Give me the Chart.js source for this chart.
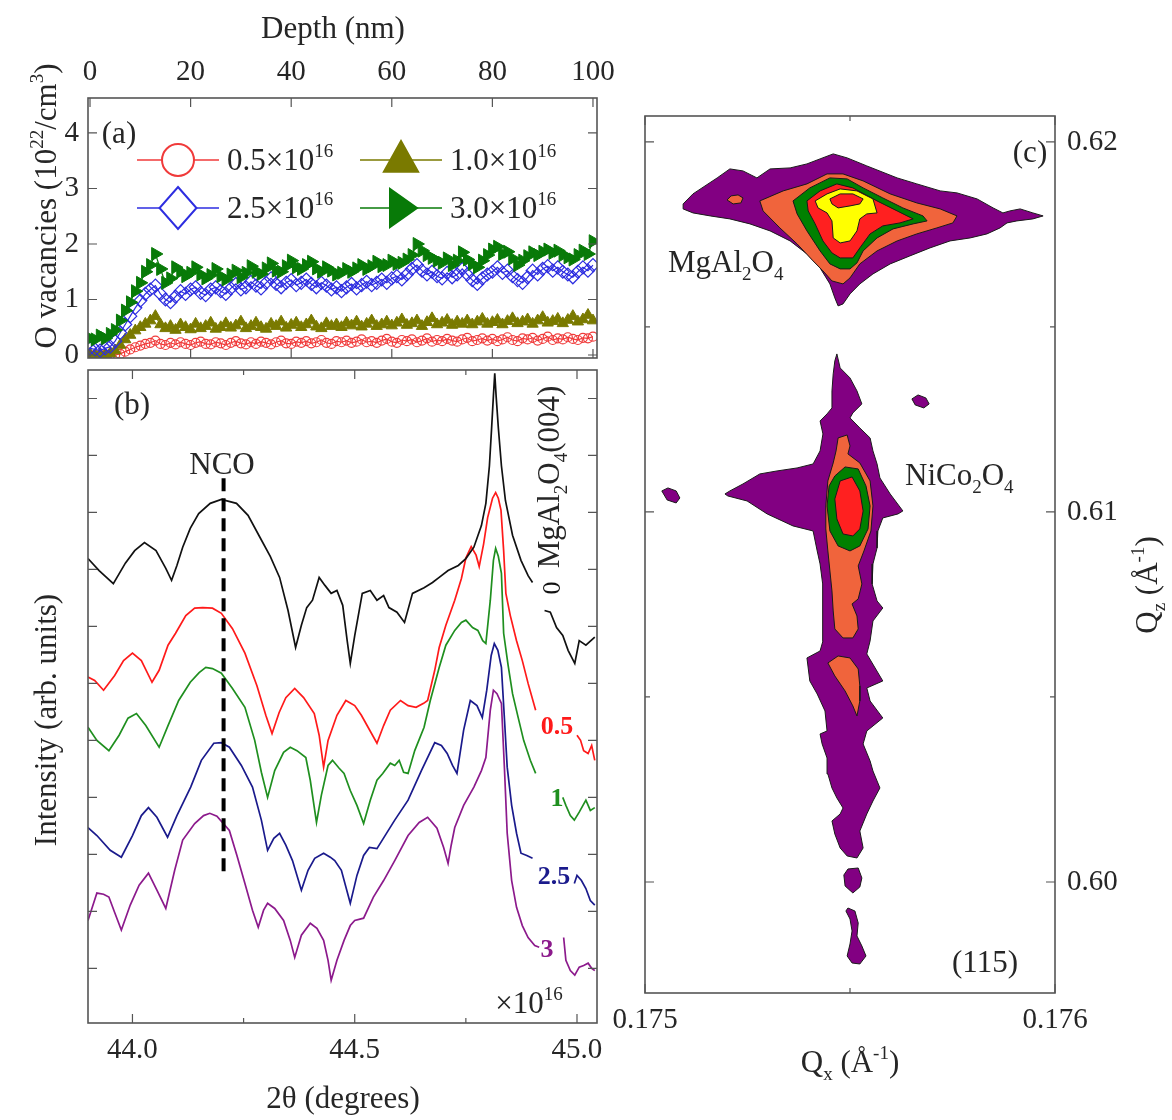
<!DOCTYPE html>
<html><head><meta charset="utf-8">
<script src="https://cdn.jsdelivr.net/npm/chart.js@4.4.1/dist/chart.umd.min.js"></script>
<style>
html,body{margin:0;padding:0;background:#fff;}
#wrap{position:relative;width:1172px;height:1120px;overflow:hidden;background:#fff;}
canvas{position:absolute;}
</style></head><body>
<div id="wrap">
<canvas id="cb" width="610" height="770" style="left:0px;top:350px"></canvas>
<canvas id="ca" width="640" height="380" style="left:0px;top:0px"></canvas>
<canvas id="cc" width="577" height="1120" style="left:595px;top:0px"></canvas>
</div>
<script>
// ---------------- Panel (a): O vacancies vs depth ----------------
const depthNm = [0,1,2,3,4,5,6,7,8,9,10,11,12,13,14,15,16,17,18,19,20,21,22,23,24,25,26,27,28,29,30,31,32,33,34,35,36,37,38,39,40,41,42,43,44,45,46,47,48,49,50,51,52,53,54,55,56,57,58,59,60,61,62,63,64,65,66,67,68,69,70,71,72,73,74,75,76,77,78,79,80,81,82,83,84,85,86,87,88,89,90,91,92,93,94,95,96,97,98,99,100];
const vac05 = [0,0,0,0,0,0.00,0.02,0.06,0.10,0.14,0.17,0.20,0.22,0.26,0.20,0.18,0.22,0.19,0.23,0.20,0.18,0.22,0.24,0.20,0.19,0.23,0.21,0.18,0.22,0.25,0.21,0.19,0.23,0.20,0.24,0.22,0.19,0.23,0.26,0.21,0.20,0.24,0.22,0.25,0.21,0.23,0.27,0.22,0.20,0.25,0.23,0.26,0.22,0.24,0.28,0.23,0.25,0.22,0.26,0.29,0.24,0.22,0.27,0.25,0.28,0.23,0.26,0.30,0.24,0.27,0.25,0.29,0.26,0.24,0.28,0.31,0.25,0.27,0.30,0.26,0.29,0.25,0.28,0.32,0.27,0.25,0.30,0.28,0.31,0.26,0.29,0.33,0.27,0.30,0.28,0.32,0.29,0.27,0.31,0.30,0.33];
const vac10 = [0.02,0.00,0.02,0.00,0.03,0.08,0.18,0.28,0.36,0.44,0.50,0.56,0.62,0.70,0.55,0.48,0.52,0.45,0.55,0.50,0.46,0.56,0.48,0.52,0.58,0.47,0.50,0.57,0.49,0.53,0.60,0.48,0.52,0.58,0.50,0.47,0.56,0.52,0.60,0.49,0.54,0.58,0.50,0.55,0.62,0.51,0.48,0.57,0.52,0.55,0.50,0.58,0.53,0.60,0.51,0.56,0.62,0.52,0.55,0.60,0.53,0.58,0.64,0.54,0.57,0.62,0.52,0.59,0.66,0.55,0.58,0.63,0.54,0.60,0.56,0.62,0.55,0.60,0.65,0.56,0.59,0.63,0.55,0.61,0.66,0.57,0.60,0.64,0.56,0.62,0.68,0.58,0.61,0.65,0.57,0.63,0.70,0.60,0.64,0.72,0.62];
const vac25 = [0.12,0.10,0.08,0.12,0.15,0.25,0.40,0.55,0.70,0.85,0.98,1.10,1.18,1.25,1.10,1.00,0.95,1.05,1.15,1.10,1.18,1.22,1.12,1.08,1.18,1.22,1.15,1.10,1.20,1.28,1.18,1.22,1.32,1.25,1.20,1.30,1.38,1.28,1.22,1.30,1.35,1.26,1.30,1.36,1.28,1.22,1.30,1.25,1.18,1.22,1.15,1.22,1.28,1.20,1.26,1.32,1.26,1.30,1.36,1.30,1.38,1.42,1.36,1.45,1.55,1.62,1.52,1.45,1.50,1.42,1.38,1.48,1.40,1.45,1.55,1.45,1.35,1.28,1.38,1.45,1.50,1.58,1.48,1.52,1.42,1.35,1.30,1.40,1.52,1.45,1.55,1.60,1.52,1.58,1.50,1.45,1.40,1.50,1.58,1.52,1.62];
const vac30 = [0.30,0.28,0.35,0.30,0.38,0.45,0.62,0.80,0.95,1.15,1.30,1.50,1.62,1.82,1.55,1.30,1.38,1.58,1.50,1.42,1.48,1.58,1.45,1.38,1.44,1.55,1.42,1.36,1.45,1.52,1.40,1.48,1.60,1.50,1.46,1.56,1.65,1.52,1.50,1.60,1.70,1.58,1.55,1.62,1.68,1.56,1.50,1.58,1.52,1.45,1.48,1.55,1.50,1.56,1.62,1.55,1.60,1.68,1.60,1.62,1.70,1.64,1.66,1.72,1.80,2.00,1.88,1.80,1.75,1.70,1.66,1.74,1.62,1.70,1.85,1.72,1.64,1.58,1.70,1.80,1.90,1.95,1.82,1.86,1.74,1.62,1.70,1.78,1.85,1.80,1.86,1.90,1.84,1.88,1.80,1.76,1.72,1.80,1.88,1.82,2.05];
const fluenceLabels = ['0.5', '1.0', '2.5', '3.0'];

// ---------------- Panel (b): XRD 2theta scans ----------------
const tt0 = [43.90,43.925,43.957,43.984,44.005,44.027,44.053,44.075,44.088,44.10,44.113,44.13,44.149,44.175,44.20,44.234,44.26,44.287,44.31,44.331,44.35,44.367,44.38,44.392,44.405,44.42,44.433,44.447,44.46,44.473,44.483,44.49,44.50,44.517,44.535,44.55,44.565,44.577,44.595,44.612,44.63,44.656,44.675,44.69,44.71,44.733,44.75,44.768,44.785,44.795,44.803,44.808,44.812,44.815,44.818,44.823,44.83,44.839,44.855,44.874,44.89,44.90,44.91,44.927,44.94,44.954,44.968,44.98,44.995,45.005,45.02,45.04];
const int0 = [8.19,7.98,7.75,8.11,8.33,8.47,8.33,8.02,7.81,8.07,8.39,8.72,8.98,9.16,9.23,9.16,8.95,8.56,8.23,7.86,7.28,6.63,7.02,7.33,7.46,7.86,7.72,7.58,7.63,7.37,6.75,6.35,6.84,7.58,7.63,7.46,7.54,7.33,7.25,7.07,7.58,7.68,7.77,7.86,7.98,8.07,8.19,8.39,8.77,9.16,9.82,10.49,11.05,11.44,11.05,10.49,9.82,9.21,8.60,8.16,7.89,7.77,null,7.28,7.25,6.98,6.84,6.58,6.35,6.75,6.67,6.81];
const tt05 = [43.90,43.915,43.935,43.96,43.98,44.00,44.02,44.044,44.06,44.08,44.097,44.12,44.14,44.158,44.18,44.20,44.225,44.253,44.28,44.30,44.314,44.33,44.345,44.365,44.385,44.409,44.42,44.43,44.44,44.46,44.48,44.50,44.515,44.53,44.55,44.565,44.58,44.603,44.62,44.638,44.655,44.664,44.68,44.69,44.705,44.725,44.74,44.75,44.762,44.773,44.78,44.79,44.799,44.81,44.817,44.823,44.829,44.835,44.84,44.85,44.864,44.877,44.89,44.907,44.95,45.00,45.008,45.015,45.025,45.033,45.04];
const int05 = [6.11,6.05,5.88,6.14,6.40,6.53,6.40,6.02,6.23,6.67,6.88,7.19,7.32,7.33,7.32,7.23,6.96,6.53,5.96,5.44,5.12,5.49,5.75,5.91,5.75,5.47,5.09,4.53,5.00,5.44,5.70,5.61,5.44,5.23,4.95,5.26,5.53,5.70,5.61,5.58,5.65,5.70,6.23,6.63,7.02,7.46,7.84,8.20,8.40,8.25,8.05,8.45,8.91,9.25,9.35,9.25,9.04,8.33,7.58,7.19,6.75,6.40,6.00,5.53,null,5.09,5.00,4.82,4.77,4.91,4.65];
const tt1 = [43.90,43.92,43.947,43.97,43.99,44.009,44.03,44.06,44.08,44.104,44.13,44.15,44.165,44.18,44.20,44.225,44.253,44.275,44.29,44.304,44.32,44.34,44.355,44.37,44.39,44.40,44.414,44.425,44.44,44.45,44.465,44.476,44.49,44.505,44.52,44.535,44.55,44.563,44.58,44.59,44.60,44.61,44.62,44.635,44.656,44.67,44.69,44.705,44.725,44.74,44.75,44.765,44.777,44.788,44.795,44.805,44.812,44.817,44.823,44.83,44.835,44.845,44.855,44.868,44.88,44.895,44.907,44.94,44.968,44.975,44.985,44.994,45.005,45.02,45.03,45.04];
const int1 = [5.23,5.00,4.82,5.09,5.39,5.47,5.26,4.88,5.26,5.70,6.02,6.19,6.28,6.26,6.18,5.91,5.58,5.00,4.44,4.00,4.47,4.79,4.88,4.82,4.70,4.30,3.56,4.04,4.56,4.65,4.51,4.42,4.12,3.86,3.54,3.95,4.30,4.42,4.60,4.56,4.65,4.44,4.42,4.82,5.23,5.70,6.28,6.67,6.93,7.07,7.11,6.98,6.93,6.75,6.70,7.46,8.16,8.37,8.23,7.93,6.88,6.32,5.82,5.39,5.00,4.65,4.42,null,4.00,3.86,3.68,3.60,3.74,3.95,3.77,3.82];
const tt25 = [43.90,43.92,43.95,43.975,44.00,44.02,44.036,44.055,44.079,44.10,44.131,44.155,44.183,44.20,44.218,44.245,44.27,44.29,44.304,44.318,44.331,44.345,44.36,44.38,44.395,44.41,44.43,44.445,44.455,44.47,44.49,44.505,44.52,44.533,44.55,44.57,44.59,44.62,44.65,44.68,44.695,44.708,44.72,44.73,44.745,44.76,44.775,44.787,44.797,44.807,44.814,44.822,44.83,44.837,44.843,44.853,44.864,44.874,44.887,44.90,44.95,44.994,45.00,45.01,45.02,45.03,45.04];
const int25 = [3.47,3.33,3.07,2.95,3.33,3.68,3.82,3.65,3.30,3.68,4.18,4.65,4.95,4.96,4.88,4.56,4.18,3.60,3.07,3.28,3.37,3.16,2.89,2.37,2.72,2.93,3.02,2.95,2.89,2.72,2.14,2.63,2.98,3.12,3.10,3.35,3.60,3.95,4.47,4.96,4.91,4.77,4.56,4.42,5.18,5.70,5.61,5.40,5.88,6.49,6.70,6.58,6.28,5.35,4.53,3.86,3.37,3.02,2.98,2.93,null,2.49,2.63,2.54,2.40,2.19,2.11];
const tt3 = [43.90,43.92,43.935,43.947,43.96,43.975,43.995,44.015,44.036,44.055,44.075,44.095,44.113,44.14,44.16,44.174,44.19,44.218,44.235,44.253,44.27,44.283,44.295,44.304,44.32,44.34,44.355,44.365,44.38,44.40,44.415,44.43,44.44,44.447,44.46,44.476,44.49,44.50,44.52,44.542,44.565,44.59,44.62,44.645,44.664,44.685,44.70,44.71,44.717,44.725,44.745,44.768,44.785,44.795,44.805,44.812,44.82,44.83,44.837,44.843,44.853,44.864,44.877,44.89,44.905,44.915,44.94,44.97,44.975,44.985,44.995,45.005,45.015,45.025,45.033,45.04];
const int3 = [1.84,2.32,2.30,2.25,1.98,1.67,2.11,2.46,2.67,2.37,2.05,2.72,3.25,3.54,3.68,3.72,3.67,3.42,2.98,2.49,2.02,1.72,2.02,2.14,2.05,1.84,1.49,1.19,1.58,1.79,1.70,1.49,1.14,0.79,1.14,1.49,1.75,1.84,1.88,2.25,2.54,2.89,3.33,3.56,3.65,3.46,3.12,2.84,3.16,3.47,3.86,4.18,4.47,4.70,5.53,5.88,5.82,5.65,4.47,3.37,2.54,2.07,1.75,1.54,1.40,1.37,null,1.54,1.14,0.96,0.88,1.02,1.05,1.09,1.00,0.96];
const ncoPeak2Theta = 44.205;
const ncoMarkerSpan = [2.65, 9.6];
const xrdCurveLabels = ['0', '0.5', '1', '2.5', '3'];

// ---------------- Panel (c): RSM contours (Qx, Qz in 1/Angstrom) ----------------
const mgaPurple = [[0.175093,0.618324],[0.175117,0.618595],[0.175176,0.619027],[0.175207,0.619270],[0.175239,0.619216],[0.175273,0.619027],[0.175305,0.619270],[0.175354,0.619297],[0.175395,0.619405],[0.175427,0.619541],[0.175459,0.619676],[0.175493,0.619568],[0.175541,0.619351],[0.175615,0.619027],[0.175663,0.618865],[0.175720,0.618676],[0.175761,0.618622],[0.175810,0.618459],[0.175849,0.618216],[0.175873,0.618081],[0.175890,0.618135],[0.175915,0.618189],[0.175946,0.618081],[0.175971,0.618000],[0.175946,0.617919],[0.175907,0.617865],[0.175883,0.617811],[0.175866,0.617676],[0.175834,0.617514],[0.175793,0.617405],[0.175744,0.617324],[0.175695,0.617135],[0.175646,0.616919],[0.175598,0.616703],[0.175556,0.616432],[0.175524,0.616162],[0.175500,0.615892],[0.175483,0.615622],[0.175471,0.615568],[0.175463,0.615784],[0.175451,0.616162],[0.175427,0.616595],[0.175395,0.616973],[0.175354,0.617324],[0.175305,0.617595],[0.175256,0.617784],[0.175207,0.617919],[0.175159,0.618000],[0.175117,0.618081],[0.175093,0.618189]];
const mgaIsland = [[0.175200,0.618432],[0.175210,0.618541],[0.175227,0.618568],[0.175239,0.618486],[0.175234,0.618351],[0.175215,0.618324]];
const mgaOrange = [[0.175280,0.618405],[0.175337,0.618676],[0.175395,0.618865],[0.175444,0.619135],[0.175483,0.619135],[0.175532,0.618946],[0.175598,0.618595],[0.175663,0.618351],[0.175720,0.618189],[0.175761,0.618000],[0.175751,0.617811],[0.175712,0.617676],[0.175663,0.617514],[0.175615,0.617324],[0.175566,0.617054],[0.175524,0.616703],[0.175500,0.616324],[0.175483,0.616162],[0.175456,0.616243],[0.175434,0.616514],[0.175410,0.616784],[0.175371,0.617243],[0.175329,0.617676],[0.175288,0.618135]];
const mgaGreen = [[0.175361,0.618405],[0.175402,0.618757],[0.175451,0.619027],[0.175493,0.619000],[0.175532,0.618757],[0.175580,0.618486],[0.175629,0.618216],[0.175678,0.618000],[0.175688,0.617865],[0.175654,0.617784],[0.175605,0.617649],[0.175566,0.617405],[0.175532,0.617054],[0.175517,0.616730],[0.175500,0.616568],[0.175476,0.616568],[0.175451,0.616703],[0.175427,0.617054],[0.175395,0.617595],[0.175371,0.618054]];
const mgaRedRing = [[0.175395,0.618405],[0.175427,0.618676],[0.175468,0.618865],[0.175507,0.618757],[0.175566,0.618405],[0.175615,0.618135],[0.175654,0.617919],[0.175622,0.617811],[0.175580,0.617730],[0.175549,0.617514],[0.175524,0.617135],[0.175507,0.616865],[0.175476,0.616865],[0.175456,0.617000],[0.175434,0.617324],[0.175415,0.617784],[0.175398,0.618135]];
const mgaYellow = [[0.175415,0.618405],[0.175444,0.618595],[0.175476,0.618730],[0.175517,0.618676],[0.175556,0.618459],[0.175566,0.618081],[0.175541,0.618054],[0.175524,0.617919],[0.175517,0.617595],[0.175500,0.617324],[0.175476,0.617270],[0.175459,0.617405],[0.175456,0.617865],[0.175444,0.618081],[0.175422,0.618216]];
const mgaCore = [[0.175451,0.618459],[0.175476,0.618595],[0.175507,0.618595],[0.175532,0.618459],[0.175524,0.618324],[0.175500,0.618270],[0.175471,0.618216],[0.175456,0.618324]];
const ncoPurple = [[0.175468,0.614270],[0.175476,0.613892],[0.175500,0.613622],[0.175517,0.613270],[0.175529,0.612919],[0.175507,0.612676],[0.175500,0.612541],[0.175524,0.612270],[0.175549,0.612000],[0.175556,0.611649],[0.175566,0.611297],[0.175573,0.610919],[0.175598,0.610486],[0.175629,0.610027],[0.175617,0.609946],[0.175580,0.609838],[0.175568,0.609486],[0.175566,0.609027],[0.175556,0.608595],[0.175554,0.608054],[0.175566,0.607595],[0.175580,0.607405],[0.175556,0.607054],[0.175549,0.606514],[0.175541,0.606162],[0.175580,0.605432],[0.175541,0.605243],[0.175549,0.604892],[0.175580,0.604432],[0.175541,0.604081],[0.175532,0.603730],[0.175549,0.603270],[0.175556,0.603000],[0.175573,0.602541],[0.175556,0.602189],[0.175541,0.601838],[0.175524,0.601378],[0.175532,0.600919],[0.175517,0.600649],[0.175493,0.600703],[0.175476,0.600919],[0.175463,0.601297],[0.175456,0.601649],[0.175476,0.601838],[0.175483,0.602000],[0.175468,0.602270],[0.175456,0.602541],[0.175446,0.602919],[0.175444,0.603351],[0.175432,0.603730],[0.175427,0.604000],[0.175444,0.604081],[0.175439,0.604622],[0.175420,0.605081],[0.175402,0.605432],[0.175395,0.606054],[0.175427,0.606243],[0.175434,0.606514],[0.175432,0.607054],[0.175434,0.607514],[0.175434,0.608054],[0.175427,0.608595],[0.175420,0.608946],[0.175410,0.609486],[0.175361,0.609622],[0.175298,0.609946],[0.175249,0.610297],[0.175202,0.610432],[0.175195,0.610486],[0.175207,0.610568],[0.175239,0.610757],[0.175280,0.611027],[0.175322,0.611108],[0.175371,0.611189],[0.175410,0.611297],[0.175427,0.611649],[0.175434,0.612108],[0.175427,0.612459],[0.175444,0.612649],[0.175456,0.612811],[0.175456,0.613270],[0.175459,0.613730],[0.175463,0.614081]];
const ncoOrangeUpper = [[0.175471,0.612000],[0.175493,0.612081],[0.175500,0.611784],[0.175495,0.611568],[0.175524,0.611324],[0.175549,0.610838],[0.175556,0.610162],[0.175551,0.609486],[0.175534,0.608946],[0.175520,0.608541],[0.175529,0.608054],[0.175520,0.607649],[0.175505,0.607514],[0.175517,0.607189],[0.175520,0.606838],[0.175507,0.606595],[0.175483,0.606595],[0.175463,0.606838],[0.175459,0.607324],[0.175456,0.607865],[0.175451,0.608405],[0.175446,0.608946],[0.175441,0.609541],[0.175441,0.610162],[0.175446,0.610838],[0.175459,0.611324],[0.175466,0.611649]];
const ncoOrangeLower = [[0.175471,0.606108],[0.175500,0.606054],[0.175520,0.605757],[0.175524,0.605297],[0.175524,0.604892],[0.175517,0.604486],[0.175507,0.604757],[0.175488,0.605162],[0.175463,0.605568],[0.175446,0.605919]];
const ncoGreen = [[0.175463,0.610973],[0.175488,0.611216],[0.175520,0.611162],[0.175539,0.610703],[0.175549,0.610162],[0.175544,0.609541],[0.175524,0.609081],[0.175500,0.608946],[0.175471,0.609081],[0.175451,0.609486],[0.175444,0.610162],[0.175449,0.610703]];
const ncoCore = [[0.175476,0.610838],[0.175505,0.610946],[0.175524,0.610568],[0.175532,0.610027],[0.175524,0.609541],[0.175507,0.609351],[0.175483,0.609405],[0.175468,0.609811],[0.175463,0.610351]];
const islandRight = [[0.175651,0.613054],[0.175666,0.613162],[0.175685,0.613081],[0.175693,0.612919],[0.175680,0.612811],[0.175659,0.612892]];
const islandLeft = [[0.175041,0.610568],[0.175056,0.610649],[0.175076,0.610568],[0.175085,0.610378],[0.175076,0.610243],[0.175054,0.610324]];
const tailBlob1 = [[0.175495,0.600351],[0.175520,0.600378],[0.175529,0.600108],[0.175524,0.599865],[0.175507,0.599703],[0.175488,0.599892],[0.175485,0.600189]];
const tailBlob2 = [[0.175495,0.599297],[0.175512,0.599216],[0.175520,0.598892],[0.175517,0.598541],[0.175529,0.598270],[0.175539,0.598000],[0.175524,0.597784],[0.175505,0.597811],[0.175493,0.598000],[0.175500,0.598324],[0.175505,0.598676],[0.175500,0.599000],[0.175490,0.599216]];

// ---------------- styling ----------------
const SERIF = '"Liberation Serif", "Times New Roman", serif';
Chart.defaults.font.family = SERIF;
Chart.defaults.font.size = 29;
Chart.defaults.color = '#262626';

const COL_A = {v05: '#f03a3a', v10: '#7a7a00', v25: '#2d2de0', v30: '#087a08'};
const COL_B = ['#111111', '#ff1a1a', '#1f8f1f', '#1a1a8c', '#8c1a8c'];
const CONTOUR = {purple: '#820082', orange: '#f0643c', green: '#008000', red: '#ff2020', yellow: '#ffff00'};

function rich(ctx, parts, x, y, o = {}) {
  const size = o.size || 30, wt = o.weight || 'normal', small = Math.round(size * 0.62);
  ctx.save();
  ctx.translate(x, y);
  if (o.rotate) ctx.rotate(o.rotate);
  ctx.fillStyle = o.color || '#262626';
  ctx.textBaseline = 'alphabetic';
  ctx.textAlign = 'left';
  const widths = parts.map(([t, k]) => { ctx.font = `${wt} ${k ? small : size}px ${SERIF}`; return ctx.measureText(t).width; });
  const total = widths.reduce((a, b) => a + b, 0);
  let cx = o.align === 'left' ? 0 : (o.align === 'right' ? -total : -total / 2);
  const base = size * 0.33;
  parts.forEach(([t, k], i) => {
    ctx.font = `${wt} ${k ? small : size}px ${SERIF}`;
    const dy = k === 1 ? -size * 0.42 : (k === -1 ? size * 0.25 : 0);
    ctx.fillText(t, cx, base + dy);
    cx += widths[i];
  });
  ctx.restore();
}

function zeroPad(s) { s.paddingLeft = 0; s.paddingRight = 0; s.paddingTop = 0; s.paddingBottom = 0; }

function framePlugin(isMinor) {
  return {
    id: 'frame',
    afterDatasetsDraw(chart) {
      const {ctx, chartArea: a} = chart;
      ctx.save();
      ctx.lineWidth = 1.2; ctx.strokeStyle = '#555';
      ['x', 'y'].forEach(id => {
        const s = chart.scales[id];
        s.ticks.forEach(t => {
          const L = isMinor && isMinor(id, t.value) ? 5 : 9;
          const p = s.getPixelForValue(t.value);
          ctx.beginPath();
          if (id === 'x') { ctx.moveTo(p, a.top); ctx.lineTo(p, a.top + L); ctx.moveTo(p, a.bottom); ctx.lineTo(p, a.bottom - L); }
          else { ctx.moveTo(a.left, p); ctx.lineTo(a.left + L, p); ctx.moveTo(a.right, p); ctx.lineTo(a.right - L, p); }
          ctx.stroke();
        });
      });
      ctx.lineWidth = 1.6; ctx.strokeStyle = '#555';
      ctx.strokeRect(a.left, a.top, a.right - a.left, a.bottom - a.top);
      ctx.restore();
    }
  };
}

function marker(ctx, style, x, y, r, color, filled, lw) {
  ctx.save(); ctx.beginPath();
  if (style === 'circle') ctx.arc(x, y, r, 0, 2 * Math.PI);
  else if (style === 'triangle') { ctx.moveTo(x, y - r); ctx.lineTo(x + r * 0.9, y + r * 0.62); ctx.lineTo(x - r * 0.9, y + r * 0.62); ctx.closePath(); }
  else if (style === 'diamond') { ctx.moveTo(x, y - r); ctx.lineTo(x + r * 0.88, y); ctx.lineTo(x, y + r); ctx.lineTo(x - r * 0.88, y); ctx.closePath(); }
  else if (style === 'right') { ctx.moveTo(x + r * 0.8, y); ctx.lineTo(x - r * 0.55, y - r * 0.95); ctx.lineTo(x - r * 0.55, y + r * 0.95); ctx.closePath(); }
  ctx.fillStyle = filled ? color : '#fff'; ctx.fill();
  ctx.lineWidth = lw; ctx.strokeStyle = color; ctx.stroke();
  ctx.restore();
}

// ---------------- chart (a) ----------------
function pairs(xs, ys) { const n = Math.min(xs.length, ys.length); const out = []; for (let i = 0; i < n; i++) out.push({x: xs[i], y: ys[i]}); return out; }

const dsA = [
  {data: pairs(depthNm, vac30), showLine: true, borderColor: COL_A.v30, borderWidth: 1.2, pointStyle: 'triangle', pointRotation: 90, pointRadius: 7.5, pointBackgroundColor: COL_A.v30, pointBorderColor: COL_A.v30, pointBorderWidth: 1},
  {data: pairs(depthNm, vac25), showLine: true, borderColor: COL_A.v25, borderWidth: 1.2, pointStyle: 'rectRot', pointRadius: 6.5, pointBackgroundColor: 'rgba(0,0,0,0)', pointBorderColor: COL_A.v25, pointBorderWidth: 1.2},
  {data: pairs(depthNm, vac10), showLine: true, borderColor: COL_A.v10, borderWidth: 1.2, pointStyle: 'triangle', pointRadius: 6.5, pointBackgroundColor: COL_A.v10, pointBorderColor: COL_A.v10, pointBorderWidth: 1},
  {data: pairs(depthNm, vac05), showLine: true, borderColor: COL_A.v05, borderWidth: 1.2, pointStyle: 'circle', pointRadius: 4.5, pointBackgroundColor: 'rgba(0,0,0,0)', pointBorderColor: COL_A.v05, pointBorderWidth: 1.2}
];

const legendA = [
  {label: fluenceLabels[0], style: 'circle', color: COL_A.v05, filled: false, r: 16, col: 0, row: 0},
  {label: fluenceLabels[1], style: 'triangle', color: COL_A.v10, filled: true, r: 19, col: 1, row: 0},
  {label: fluenceLabels[2], style: 'diamond', color: COL_A.v25, filled: false, r: 21, col: 0, row: 1},
  {label: fluenceLabels[3], style: 'right', color: COL_A.v30, filled: true, r: 20, col: 1, row: 1}
];

const annotA = {
  id: 'annotA',
  afterDraw(chart) {
    const ctx = chart.ctx;
    rich(ctx, [['Depth (nm)', 0]], 333, 28, {size: 31});
    rich(ctx, [['O vacancies (10', 0], ['22', 1], ['/cm', 0], ['3', 1], [')', 0]], 46, 206, {size: 31, rotate: -Math.PI / 2});
    rich(ctx, [['(a)', 0]], 119, 133, {size: 31});
    const colX = [178, 401], rowY = [160, 208];
    legendA.forEach(it => {
      const cx = colX[it.col], cy = rowY[it.row];
      ctx.save(); ctx.strokeStyle = it.color; ctx.lineWidth = 1.6;
      ctx.beginPath(); ctx.moveTo(cx - 41, cy); ctx.lineTo(cx + 41, cy); ctx.stroke(); ctx.restore();
      marker(ctx, it.style, cx, cy, it.r, it.color, it.filled, 2);
      rich(ctx, [[it.label + '×10', 0], ['16', 1]], cx + 49, cy, {size: 31, align: 'left'});
    });
  }
};

new Chart(document.getElementById('ca'), {
  type: 'scatter',
  data: {datasets: dsA},
  options: {
    responsive: false, animation: false,
    layout: {padding: {left: 0, top: 0, right: 43, bottom: 22}},
    plugins: {legend: {display: false}, tooltip: {enabled: false}},
    scales: {
      x: {type: 'linear', position: 'top', min: -0.4, max: 100.8,
          ticks: {stepSize: 20, includeBounds: false, padding: 8, maxRotation: 0, autoSkip: false},
          grid: {display: false, drawTicks: false}, border: {display: false},
          afterFit: s => { s.height = 98; zeroPad(s); }},
      y: {type: 'linear', min: -0.054, max: 4.63,
          ticks: {stepSize: 1, includeBounds: false, padding: 9, autoSkip: false},
          grid: {display: false, drawTicks: false}, border: {display: false},
          afterFit: s => { s.width = 88; zeroPad(s); }}
    }
  },
  plugins: [framePlugin(null), annotA]
});

// ---------------- chart (b) ----------------
const curvesB = [[tt0, int0], [tt05, int05], [tt1, int1], [tt25, int25], [tt3, int3]];
const dsB = [
  {data: [{x: ncoPeak2Theta, y: ncoMarkerSpan[1]}, {x: ncoPeak2Theta, y: ncoMarkerSpan[0]}], showLine: true, borderColor: '#000', borderWidth: 4, borderDash: [13, 7], pointRadius: 0}
].concat(curvesB.map((c, i) => ({data: pairs(c[0], c[1]), showLine: true, spanGaps: false, borderColor: COL_B[i], borderWidth: 1.7, pointRadius: 0, tension: 0})));

const annotB = {
  id: 'annotB',
  afterDraw(chart) {
    const ctx = chart.ctx;
    rich(ctx, [['(b)', 0]], 132, 54, {size: 31});
    rich(ctx, [['NCO', 0]], 222, 114, {size: 31});
    rich(ctx, [['MgAl', 0], ['2', -1], ['O', 0], ['4', -1], ['(004)', 0]], 549, 127, {size: 31, rotate: -Math.PI / 2});
    rich(ctx, [[xrdCurveLabels[0], 0]], 551, 238, {size: 26, rotate: -Math.PI / 2, color: COL_B[0]});
    rich(ctx, [[xrdCurveLabels[1], 0]], 557, 375, {size: 26, weight: 'bold', color: COL_B[1]});
    rich(ctx, [[xrdCurveLabels[2], 0]], 557, 447, {size: 26, weight: 'bold', color: COL_B[2]});
    rich(ctx, [[xrdCurveLabels[3], 0]], 554, 525, {size: 26, weight: 'bold', color: COL_B[3]});
    rich(ctx, [[xrdCurveLabels[4], 0]], 547, 598, {size: 26, weight: 'bold', color: COL_B[4]});
    rich(ctx, [['×10', 0], ['16', 1]], 529, 653, {size: 31});
    rich(ctx, [['2θ (degrees)', 0]], 343, 748, {size: 31});
    rich(ctx, [['Intensity (arb. units)', 0]], 46, 370, {size: 31, rotate: -Math.PI / 2});
  }
};

new Chart(document.getElementById('cb'), {
  type: 'scatter',
  data: {datasets: dsB},
  options: {
    responsive: false, animation: false,
    layout: {padding: {left: 0, top: 20, right: 13, bottom: 0}},
    plugins: {legend: {display: false}, tooltip: {enabled: false}},
    scales: {
      x: {type: 'linear', position: 'bottom', min: 43.9, max: 45.045,
          ticks: {stepSize: 0.25, includeBounds: false, padding: 10, maxRotation: 0, autoSkip: false,
                  callback: v => (Math.abs(v * 2 - Math.round(v * 2)) < 1e-6 ? v.toFixed(1) : '')},
          grid: {display: false, drawTicks: false}, border: {display: false},
          afterFit: s => { s.height = 97; zeroPad(s); }},
      y: {type: 'linear', min: 0.04, max: 11.5,
          ticks: {stepSize: 1, includeBounds: false, display: false},
          grid: {display: false, drawTicks: false}, border: {display: false},
          afterFit: s => { s.width = 88; zeroPad(s); }}
    }
  },
  plugins: [framePlugin((id, v) => id === 'x' && Math.abs(v * 2 - Math.round(v * 2)) > 1e-6), annotB]
});

// ---------------- chart (c) ----------------
function poly(pts, color) {
  const d = pts.map(([x, y]) => ({x, y}));
  d.push({x: pts[0][0], y: pts[0][1]});
  return {data: d, showLine: true, fill: 'shape', backgroundColor: color, borderColor: '#1a1a1a', borderWidth: 1, pointRadius: 0, tension: 0, indexAxis: 'y'};
}
// first dataset is drawn on top
const dsC = [
  poly(mgaCore, CONTOUR.red), poly(mgaYellow, CONTOUR.yellow), poly(mgaRedRing, CONTOUR.red),
  poly(mgaGreen, CONTOUR.green), poly(mgaOrange, CONTOUR.orange), poly(mgaIsland, CONTOUR.orange), poly(mgaPurple, CONTOUR.purple),
  poly(ncoCore, CONTOUR.red), poly(ncoGreen, CONTOUR.green), poly(ncoOrangeUpper, CONTOUR.orange), poly(ncoOrangeLower, CONTOUR.orange),
  poly(ncoPurple, CONTOUR.purple), poly(islandRight, CONTOUR.purple), poly(islandLeft, CONTOUR.purple),
  poly(tailBlob1, CONTOUR.purple), poly(tailBlob2, CONTOUR.purple)
];

const annotC = {
  id: 'annotC',
  afterDraw(chart) {
    const ctx = chart.ctx;
    rich(ctx, [['(c)', 0]], 435, 152, {size: 31});
    rich(ctx, [['MgAl', 0], ['2', -1], ['O', 0], ['4', -1]], 73, 262, {size: 31, align: 'left'});
    rich(ctx, [['NiCo', 0], ['2', -1], ['O', 0], ['4', -1]], 310, 475, {size: 31, align: 'left'});
    rich(ctx, [['(115)', 0]], 390, 962, {size: 31});
    rich(ctx, [['Q', 0], ['x', -1], [' (Å', 0], ['-1', 1], [')', 0]], 255, 1062, {size: 31});
    rich(ctx, [['Q', 0], ['z', -1], [' (Å', 0], ['-1', 1], [')', 0]], 552, 585, {size: 31, rotate: -Math.PI / 2});
  }
};

new Chart(document.getElementById('cc'), {
  type: 'scatter',
  data: {datasets: dsC},
  options: {
    responsive: false, animation: false,
    layout: {padding: {left: 50, top: 116, right: 0, bottom: 0}},
    plugins: {legend: {display: false}, tooltip: {enabled: false}, filler: {propagate: false}},
    scales: {
      x: {type: 'linear', position: 'bottom', min: 0.175, max: 0.176,
          ticks: {stepSize: 0.0005, includeBounds: false, padding: 10, maxRotation: 0, autoSkip: false,
                  callback: v => (Math.abs(v - 0.1755) < 1e-7 ? '' : v.toFixed(3))},
          grid: {display: false, drawTicks: false}, border: {display: false},
          afterFit: s => { s.height = 127; zeroPad(s); }},
      y: {type: 'linear', position: 'right', min: 0.597, max: 0.6207,
          ticks: {stepSize: 0.005, includeBounds: false, padding: 12, autoSkip: false,
                  callback: v => (Math.abs(v * 100 - Math.round(v * 100)) < 1e-6 ? v.toFixed(2) : '')},
          grid: {display: false, drawTicks: false}, border: {display: false},
          afterFit: s => { s.width = 117; zeroPad(s); }}
    }
  },
  plugins: [framePlugin((id, v) => id === 'x' ? Math.abs(v - 0.1755) < 1e-7 : Math.abs(v * 100 - Math.round(v * 100)) > 1e-6), annotC]
});
</script>
</body></html>
